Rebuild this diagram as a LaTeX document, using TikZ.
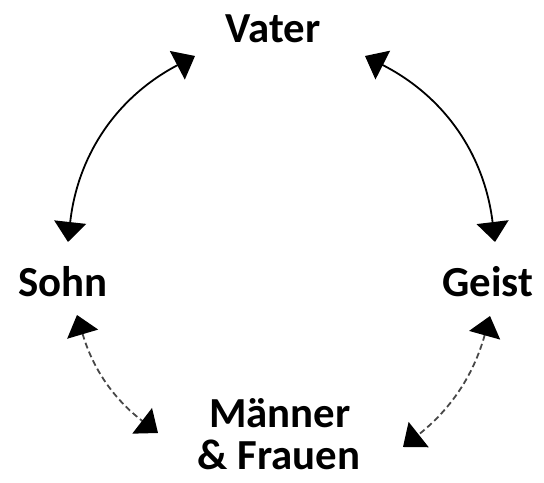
\documentclass[tikz,border=0pt]{standalone}
\usepackage{fontspec}
\setmainfont{Carlito}
\usetikzlibrary{arrows.meta}
\begin{document}
\begin{tikzpicture}[x=1bp,y=1bp,
  label/.style={font=\bfseries\fontsize{43}{42}\selectfont, inner sep=0pt, anchor=base},
  link/.style={line width=1.8bp, {Triangle[length=20bp,width=32bp,color=black]}-{Triangle[length=20bp,width=32bp,color=black]}},
  weaklink/.style={link, dash pattern=on 6bp off 3.5bp, draw=black!72}]
  \useasboundingbox (0,0) rectangle (544,483);
  % the four names on the circle
  \node[label] (vater) at (273,440) {Vater};
  \node[label] (sohn) at (63,186) {Sohn};
  \node[label] (geist) at (488,186) {Geist};
  \node[label] (maenner) at (280,55) {Männer};
  \node[label] (frauen) at (279,13) {\& Frauen};
  % ends of the connecting arcs
  \coordinate (v-left) at (195,427);
  \coordinate (v-right) at (365,427);
  \coordinate (s-top) at (68,241);
  \coordinate (s-bottom) at (77,168);
  \coordinate (g-top) at (495,241);
  \coordinate (g-bottom) at (490,167);
  \coordinate (m-left) at (158,50);
  \coordinate (m-right) at (403,36);
  % solid arcs towards the Father
  \draw[link] (s-top) to[bend left=28] (v-left);
  \draw[link] (v-right) to[bend left=28] (g-top);
  % dashed arcs towards men and women
  \draw[weaklink] (s-bottom) to[bend right=18] (m-left);
  \draw[weaklink] (g-bottom) to[bend left=18] (m-right);
\end{tikzpicture}
\end{document}
